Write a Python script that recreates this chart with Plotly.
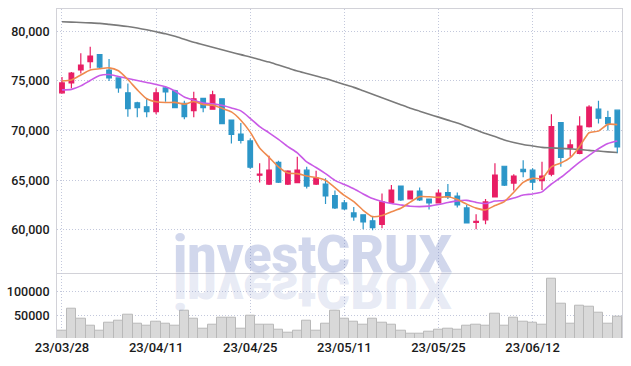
import plotly.graph_objects as go

dates = ["23/03/28", "23/03/29", "23/03/30", "23/03/31",
         "23/04/03", "23/04/04", "23/04/05", "23/04/06", "23/04/07", "23/04/10",
         "23/04/11", "23/04/12", "23/04/13", "23/04/14", "23/04/17", "23/04/18",
         "23/04/19", "23/04/20", "23/04/21", "23/04/24", "23/04/25", "23/04/26",
         "23/04/27", "23/04/28",
         "23/05/02", "23/05/03", "23/05/04", "23/05/08", "23/05/09", "23/05/10",
         "23/05/11", "23/05/12", "23/05/15", "23/05/16", "23/05/17", "23/05/18",
         "23/05/19", "23/05/22", "23/05/23", "23/05/24", "23/05/25", "23/05/26",
         "23/05/30", "23/05/31",
         "23/06/01", "23/06/02", "23/06/05", "23/06/07", "23/06/08", "23/06/09",
         "23/06/12", "23/06/13", "23/06/14", "23/06/15", "23/06/16", "23/06/19",
         "23/06/20", "23/06/21", "23/06/22", "23/06/23"]

opens = [73800, 74800, 76100, 76950, 77650, 76100, 75300, 73800, 72800, 72400,
         71900, 74300, 74000, 72750, 72000, 73250, 72150, 73200, 71050, 69650,
         68950, 65500, 64600, 66800, 64600, 64750, 66000, 64600, 64600, 63450,
         62700, 61700, 61500, 60900, 60550, 62750, 64400, 63100, 63900, 63100,
         62700, 63750, 63400, 62200, 60750, 61000, 63300, 66400, 64700, 66100,
         66000, 64950, 65600, 70800, 68250, 67700, 70400, 72150, 71300, 72050]
highs = [75400, 75900, 77800, 78450, 77700, 77200, 75350, 74750, 72900, 73250,
         74250, 74500, 74100, 73000, 73900, 73300, 74000, 73250, 71100, 70750,
         69200, 66700, 67450, 66950, 66000, 67350, 66350, 65950, 65200, 63950,
         63000, 62300, 61550, 61300, 63650, 64500, 64450, 63950, 64250, 63150,
         64050, 64600, 63750, 62500, 61550, 63100, 66700, 66450, 65600, 67000,
         66200, 66850, 71650, 70850, 69100, 71450, 72550, 73000, 72000, 72100]
lows = [73700, 74250, 75750, 76250, 76250, 75000, 73800, 71400, 71350, 71350,
        71650, 72900, 72250, 71150, 71350, 71850, 72100, 70650, 68700, 68700,
        66150, 64750, 64500, 64700, 64500, 64700, 64150, 64500, 62600, 62100,
        62000, 60900, 60050, 59950, 60150, 62700, 62900, 63050, 62900, 62050,
        62650, 63100, 62250, 60650, 60050, 60550, 63250, 64400, 63950, 65300,
        64000, 64000, 65400, 66350, 67350, 67600, 70300, 70700, 70000, 67700]
closes = [74800, 75800, 76600, 77500, 76400, 75300, 74300, 72200, 72300, 71900,
          73800, 73900, 72300, 71400, 73200, 72300, 73600, 70700, 69600, 69000,
          66300, 65600, 66000, 64800, 65900, 66000, 64400, 65200, 63400, 62200,
          62100, 61300, 60800, 60200, 62800, 64000, 63000, 63900, 63000, 62700,
          63700, 63300, 62500, 60700, 60850, 62800, 65500, 64500, 65400, 65850,
          64800, 65400, 70400, 67300, 68550, 70450, 72350, 71250, 70700, 68350]

ma5 = [75000, 75100, 75600, 76100, 76220, 76320, 76020, 75140, 74100, 73200,
       72900, 72820, 72840, 72660, 72920, 72620, 72560, 72240, 71880, 71040,
       69840, 68240, 67300, 66340, 65720, 65660, 65420, 65260, 64980, 64240,
       63460, 62840, 61960, 61320, 61440, 61820, 62160, 62780, 63340, 63320,
       63260, 63320, 63040, 62580, 62180, 62000, 62440, 62840, 63780, 64780,
       65180, 65160, 66340, 66720, 67260, 68400, 69780, 69940, 70620, 70600]
ma10 = [74100, 74150, 74500, 75050, 75550, 75650, 75450, 75250, 75050, 74850,
        74650, 74420, 73990, 73380, 73060, 72760, 72690, 72540, 72270, 71980,
        71230, 70400, 69770, 69110, 68380, 67750, 66830, 66280, 65660, 64980,
        64560, 64130, 63610, 63150, 62840, 62640, 62500, 62370, 62330, 62380,
        62540, 62740, 62910, 62960, 62760, 62640, 62890, 62950, 63190, 63500,
        63610, 63820, 64610, 65270, 66040, 66810, 67490, 68160, 68690, 68950]
ma_long = [80970, 80930, 80890, 80850, 80800, 80700, 80600, 80480, 80330, 80150,
           79950, 79750, 79500, 79200, 78900, 78650, 78400, 78150, 77900, 77650,
           77420, 77150, 76900, 76600, 76300, 76000, 75750, 75500, 75250, 74950,
           74650, 74350, 74000, 73650, 73300, 72950, 72600, 72250, 71950, 71650,
           71350, 71050, 70750, 70400, 70050, 69700, 69400, 69050, 68800, 68600,
           68450, 68300, 68250, 68200, 68150, 68100, 68000, 67930, 67850, 67780]

volumes = [18000, 65000, 44500, 30000, 18000, 36000, 39000, 53000, 32500, 30000,
           38000, 32500, 29500, 61000, 44500, 23500, 30500, 46500, 46500, 23500,
           49000, 30500, 30500, 21500, 15500, 18000, 40500, 18000, 34000, 61000,
           44500, 37000, 30500, 44500, 36000, 30500, 18000, 13500, 13500, 16000,
           20000, 23500, 21500, 30000, 32000, 30000, 55000, 30000, 46500, 38500,
           36000, 32000, 128000, 76000, 34000, 71500, 69500, 57000, 34000, 48500]

tick_dates = ["23/03/28", "23/04/11", "23/04/25", "23/05/11", "23/05/25", "23/06/12"]
price_ticks = [60000, 65000, 70000, 75000, 80000]
vol_ticks = [50000, 100000]

RED = "#e81e64"
BLUE = "#2c96c8"
GRID = "#c3c8dc"
FRAME = "#d2d2d8"
FONT = "Roboto"

fig = go.Figure()
fig.add_trace(go.Candlestick(
    x=dates, open=opens, high=highs, low=lows, close=closes,
    increasing=dict(line=dict(color=RED, width=1.2), fillcolor=RED),
    decreasing=dict(line=dict(color=BLUE, width=1.2), fillcolor=BLUE),
    whiskerwidth=0, showlegend=False, hoverinfo="skip", xaxis="x", yaxis="y"))
fig.add_trace(go.Scatter(x=dates, y=ma_long, mode="lines",
                         line=dict(color="#7a7a7a", width=1.6, shape="spline", smoothing=0.6),
                         showlegend=False, hoverinfo="skip", xaxis="x", yaxis="y"))
fig.add_trace(go.Scatter(x=dates, y=ma10, mode="lines",
                         line=dict(color="#c95ae6", width=1.6, shape="spline", smoothing=0.6),
                         showlegend=False, hoverinfo="skip", xaxis="x", yaxis="y"))
fig.add_trace(go.Scatter(x=dates, y=ma5, mode="lines",
                         line=dict(color="#ef8a4e", width=1.6, shape="spline", smoothing=0.6),
                         showlegend=False, hoverinfo="skip", xaxis="x", yaxis="y"))
fig.add_trace(go.Bar(x=dates, y=volumes,
                     marker=dict(color="#d9d9d9", line=dict(color="#b9b9b9", width=1)),
                     showlegend=False, hoverinfo="skip", xaxis="x2", yaxis="y2"))

xcommon = dict(type="category", range=[-0.53, 59.5], tickmode="array",
               tickvals=tick_dates, ticktext=tick_dates,
               showgrid=True, gridcolor=GRID, griddash="1px,2px", gridwidth=1,
               zeroline=False, ticks="", automargin=False, fixedrange=True)

fig.update_layout(
    width=631, height=366,
    margin=dict(l=57, r=9, t=0, b=0),
    paper_bgcolor="white", plot_bgcolor="white",
    bargap=0,
    showlegend=False,
    xaxis=dict(**xcommon, anchor="y", domain=[0, 1], showticklabels=False,
               showline=True, mirror=True, linecolor=FRAME, linewidth=1,
               rangeslider=dict(visible=False)),
    xaxis2=dict(**xcommon, anchor="y2", domain=[0, 1], showticklabels=True,
                showline=False,
                tickfont=dict(family=FONT, size=13, color="#1a1a1a", weight=500)),
    yaxis=dict(domain=[0.2549, 0.9746], range=[55670, 82220],
               tickmode="array", tickvals=price_ticks, tickformat=",d",
               showgrid=True, gridcolor=GRID, griddash="1px,2px", zeroline=False,
               showline=True, mirror=True, linecolor=FRAME, linewidth=1,
               ticks="", ticklabelstandoff=4, automargin=False,
               tickfont=dict(family=FONT, size=12.5, color="#1a1a1a", weight=500)),
    yaxis2=dict(domain=[0.0765, 0.2549], range=[3550, 139580],
                tickmode="array", tickvals=vol_ticks, tickformat="d",
                showgrid=True, gridcolor=GRID, griddash="1px,2px", zeroline=False,
                showline=True, mirror=True, linecolor=FRAME, linewidth=1,
                ticks="", ticklabelstandoff=4, automargin=False,
                tickfont=dict(family=FONT, size=12.5, color="#1a1a1a", weight=500)),
    annotations=[dict(text="investCRUX", xref="paper", yref="paper",
                      x=0.4535, y=0.2172, xanchor="center", yanchor="bottom",
                      showarrow=False,
                      font=dict(family=FONT, size=52, color="rgba(112,132,195,0.32)",
                                weight=900))],
)

post = """
(function(){
  var gd = document.getElementById('{plot_id}');
  function mk(){
    var anns = gd.querySelectorAll('g.annotation');
    if(!anns.length) return;
    var ann = anns[0];
    var t = ann.querySelector('text');
    var m = t.getCTM();
    var by = m.f + m.d*parseFloat(t.getAttribute('y')||0);
    var par = ann.parentNode;
    var pm = par.getCTM();
    var py = pm ? pm.f : 0;
    var g = document.createElementNS('http://www.w3.org/2000/svg','g');
    g.setAttribute('transform','translate(0,'+(2*by-2*py)+') scale(1,-1)');
    g.setAttribute('opacity','0.5');
    g.appendChild(ann.cloneNode(true));
    par.insertBefore(g, ann);
  }
  mk();
})();
"""

fig.write_html("out.html", post_script=post, config={"displayModeBar": False})
